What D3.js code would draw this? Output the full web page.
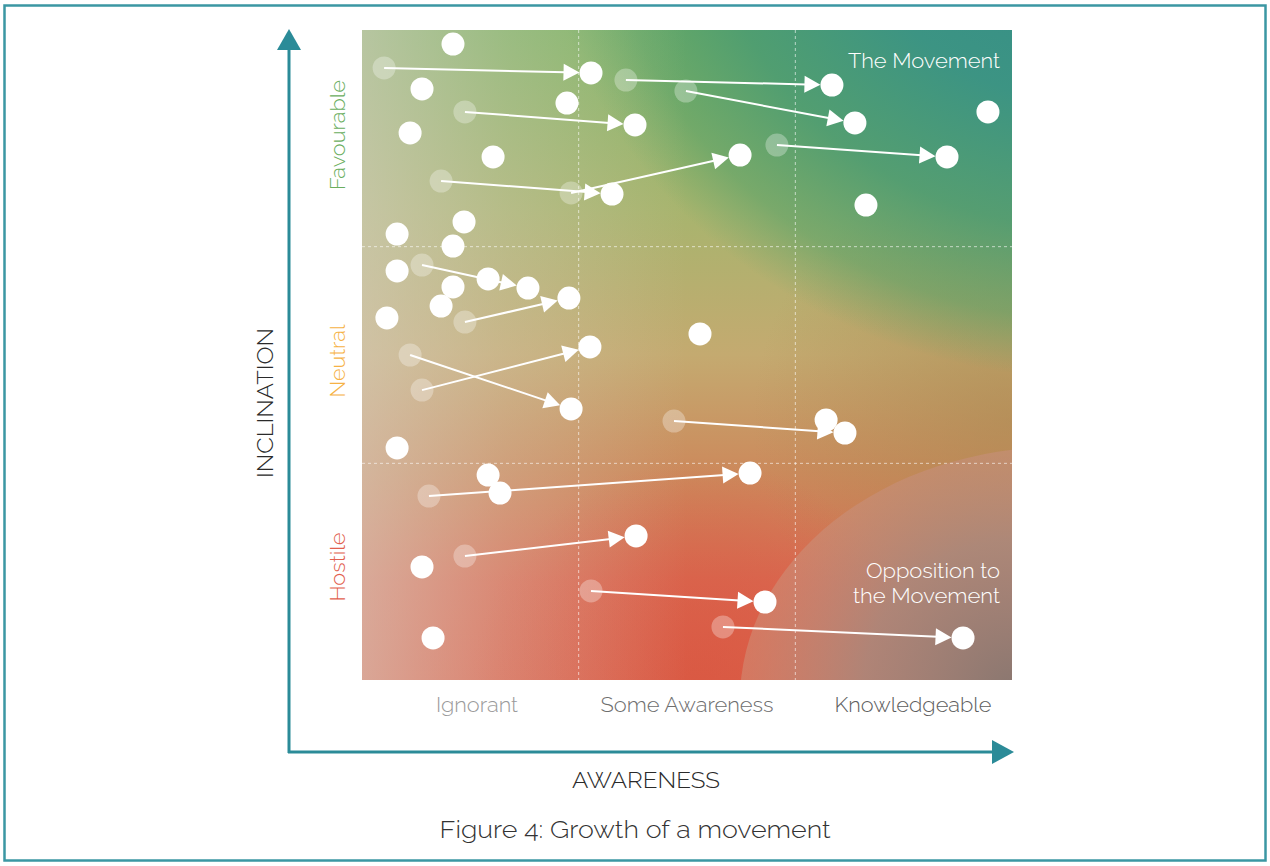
<!DOCTYPE html>
<html><head><meta charset="utf-8">
<script src="https://cdn.jsdelivr.net/npm/d3@7"></script>
<style>
html,body{margin:0;padding:0;background:#fff;}
svg{display:block;}
text{font-family:Raleway,Lato,"Open Sans",sans-serif;font-weight:300;}
</style></head>
<body>
<svg id="chart" width="1270" height="866"></svg>
<script>
// ---------- DATA ----------
const awarenessLevels = ["Ignorant", "Some Awareness", "Knowledgeable"];
const inclinationLevels = ["Hostile", "Neutral", "Favourable"];
const awarenessColors = ["#9a9a9a", "#6e6e6e", "#5e5e5e"];
const inclinationColors = ["#e2604e", "#f6b245", "#6aae5e"];
// static individuals [awareness, inclination] on 0..3 scales
const staticX = [0.42,0.277,0.946,0.222,0.605,2.889,2.326,0.471,0.162,0.42,0.162,0.582,0.42,0.365,0.115,1.56,0.162,2.142,0.582,0.637,0.277,0.328];
const staticY = [2.935,2.728,2.663,2.525,2.414,2.622,2.192,2.114,2.058,2.003,1.888,1.851,1.814,1.726,1.671,1.597,1.071,1.2,0.946,0.863,0.522,0.194];
// moving individuals: from (fromX,fromY) to (toX,toY)
const fromX = [0.102,1.218,1.495,0.475,0.365,0.965,1.915,0.277,0.475,0.222,0.277,1.44,0.309,0.475,1.057,1.666];
const fromY = [2.825,2.769,2.718,2.622,2.303,2.248,2.469,1.915,1.652,1.5,1.338,1.195,0.849,0.572,0.411,0.245];
const toX   = [1.057,2.169,2.275,1.26,1.154,1.745,2.7,0.766,0.955,0.965,1.052,2.229,1.791,1.265,1.86,2.774];
const toY   = [2.802,2.746,2.571,2.562,2.243,2.423,2.414,1.809,1.763,1.251,1.537,1.14,0.955,0.665,0.36,0.194];
const zoneLabels = [["The Movement"], ["Opposition to", "the Movement"]];
const axisTitles = {x: "AWARENESS", y: "INCLINATION"};
const caption = "Figure 4: Growth of a movement";

// ---------- LAYOUT ----------
const svg = d3.select("#chart");
const L = 362, R = 1012, T = 30, B = 680;
const x = d3.scaleLinear().domain([0,3]).range([L,R]);
const y = d3.scaleLinear().domain([0,3]).range([B,T]);
const rad = 11.5;

// frame
svg.append("rect").attr("x",4.5).attr("y",5.5).attr("width",1261).attr("height",855)
  .attr("fill","none").attr("stroke","#3b97a3").attr("stroke-width",2.5);

const defs = svg.append("defs");
function lin(id, x1,y1,x2,y2, stops){
  const g = defs.append("linearGradient").attr("id",id)
    .attr("x1",x1).attr("y1",y1).attr("x2",x2).attr("y2",y2);
  stops.forEach(s=>g.append("stop").attr("offset",s[0]).attr("stop-color",s[1]).attr("stop-opacity",s[2]===undefined?1:s[2]));
}
function radial(id, cx,cy,r, stops){
  const g = defs.append("radialGradient").attr("id",id).attr("gradientUnits","userSpaceOnUse")
    .attr("cx",cx).attr("cy",cy).attr("r",r);
  stops.forEach(s=>g.append("stop").attr("offset",s[0]).attr("stop-color",s[1]).attr("stop-opacity",s[2]===undefined?1:s[2]));
}
function radialBox(id, stops){
  const g = defs.append("radialGradient").attr("id",id);
  stops.forEach(s=>g.append("stop").attr("offset",s[0]).attr("stop-color",s[1]).attr("stop-opacity",s[2]===undefined?1:s[2]));
}
lin("gBase",0,0,0,1,[[0,"#80b466"],[0.28,"#a8b46e"],[0.5,"#c4aa70"],[0.68,"#cc8a5c"],[0.85,"#da6a52"],[1,"#dc624c"]]);
lin("gLeft",0,0,1,0,[[0,"#d8d0c4",0.62],[0.22,"#d8d0c4",0.3],[0.5,"#d8d0c4",0]]);
radialBox("gTeal", [[0,"#318a8c",1],[0.45,"#3a9384",0.97],[0.7,"#479a72",0.85],[0.88,"#54a068",0.55],[1,"#5aa266",0]]);
radial("gOlive", 1012, 420, 260, [[0,"#a88850",0.55],[1,"#a88850",0]]);
radial("gRed", 700, 690, 230, [[0,"#d9553f",0.7],[1,"#d9553f",0]]);
radial("gOpp", 1012, 690, 330, [[0,"#8a7770",1],[0.45,"#a88a7e",0.85],[0.8,"#cf9078",0.55],[1,"#dd9a80",0.45]]);

defs.append("clipPath").attr("id","plotClip").append("rect")
  .attr("x",L).attr("y",T).attr("width",R-L).attr("height",B-T);

const bg = svg.append("g").attr("clip-path","url(#plotClip)");
bg.append("rect").attr("x",L).attr("y",T).attr("width",R-L).attr("height",B-T).attr("fill","url(#gBase)");
bg.append("rect").attr("x",L).attr("y",T).attr("width",R-L).attr("height",B-T).attr("fill","url(#gOlive)");
bg.append("ellipse").attr("cx",1100).attr("cy",-120).attr("rx",560).attr("ry",500).attr("fill","url(#gTeal)");
bg.append("rect").attr("x",L).attr("y",T).attr("width",R-L).attr("height",B-T).attr("fill","url(#gRed)");
bg.append("rect").attr("x",L).attr("y",T).attr("width",R-L).attr("height",B-T).attr("fill","url(#gLeft)");
bg.append("ellipse").attr("cx",1060).attr("cy",700).attr("rx",320).attr("ry",253).attr("fill","url(#gOpp)");

// grid
const grid = svg.append("g").attr("stroke","#ffffff").attr("stroke-opacity",0.6)
  .attr("stroke-width",1).attr("stroke-dasharray","3,3");
[1,2].forEach(v=>{
  grid.append("line").attr("x1",x(v)).attr("x2",x(v)).attr("y1",T).attr("y2",B);
  grid.append("line").attr("x1",L).attr("x2",R).attr("y1",y(v)).attr("y2",y(v));
});

// axes arrows
const axisCol = "#2b8b98";
const ax = svg.append("g");
ax.append("line").attr("x1",289).attr("x2",289).attr("y1",48).attr("y2",753)
  .attr("stroke",axisCol).attr("stroke-width",3);
ax.append("line").attr("x1",288).attr("x2",995).attr("y1",752).attr("y2",752)
  .attr("stroke",axisCol).attr("stroke-width",3);
ax.append("path").attr("d","M289,29 L301,50 L277,50 Z").attr("fill",axisCol);
ax.append("path").attr("d","M1014,752 L992,740 L992,764 Z").attr("fill",axisCol);

// category labels
svg.selectAll(".xlab").data(awarenessLevels).enter().append("text")
  .attr("x",(d,i)=>[477,687,913][i]).attr("y",712).attr("text-anchor","middle")
  .attr("font-size",20).attr("fill",(d,i)=>awarenessColors[i])
  .attr("textLength",(d,i)=>[82,173,157][i]).attr("lengthAdjust","spacingAndGlyphs")
  .text(d=>d);
svg.selectAll(".ylab").data(inclinationLevels).enter().append("text")
  .attr("transform",(d,i)=>`translate(345,${[567,361,135][i]}) rotate(-90)`)
  .attr("text-anchor","middle").attr("font-size",20).attr("fill",(d,i)=>inclinationColors[i])
  .attr("textLength",(d,i)=>[69,73,110][i]).attr("lengthAdjust","spacingAndGlyphs")
  .text(d=>d);

// axis titles
svg.append("text").attr("x",646).attr("y",788).attr("text-anchor","middle")
  .attr("font-size",22).attr("fill","#2a2a2a").attr("font-weight",400)
  .attr("textLength",148).attr("lengthAdjust","spacingAndGlyphs").text(axisTitles.x);
svg.append("text").attr("transform","translate(273,403) rotate(-90)").attr("text-anchor","middle")
  .attr("font-size",22).attr("fill","#2a2a2a").attr("font-weight",400)
  .attr("textLength",150).attr("lengthAdjust","spacingAndGlyphs").text(axisTitles.y);
svg.append("text").attr("x",635).attr("y",838).attr("text-anchor","middle")
  .attr("font-size",25).attr("fill","#333").attr("font-weight",400)
  .attr("textLength",391).attr("lengthAdjust","spacingAndGlyphs").text(caption);

// zone labels
svg.append("text").attr("x",1000).attr("y",68).attr("text-anchor","end")
  .attr("font-size",21).attr("fill","#fff").attr("textLength",152).attr("lengthAdjust","spacingAndGlyphs")
  .text(zoneLabels[0][0]);
svg.selectAll(".opp").data(zoneLabels[1]).enter().append("text")
  .attr("x",1000).attr("y",(d,i)=>578+i*25).attr("text-anchor","end")
  .attr("font-size",21).attr("fill","#fff")
  .attr("textLength",(d,i)=>[134,147][i]).attr("lengthAdjust","spacingAndGlyphs")
  .text(d=>d);

// moves
const moves = fromX.map((d,i)=>({fx:fromX[i],fy:fromY[i],tx:toX[i],ty:toY[i]}));
const statics = staticX.map((d,i)=>({x:staticX[i],y:staticY[i]}));
const marks = svg.append("g");
marks.selectAll(".fade").data(moves).enter().append("circle")
  .attr("cx",d=>x(d.fx)).attr("cy",d=>y(d.fy)).attr("r",rad)
  .attr("fill","#fff").attr("fill-opacity",0.3);
const headLen = 16, headW = 8.5;
moves.forEach(d=>{
  const x1=x(d.fx), y1=y(d.fy), x2=x(d.tx), y2=y(d.ty);
  const dx=x2-x1, dy=y2-y1, len=Math.hypot(dx,dy), ux=dx/len, uy=dy/len;
  const tipX=x2-ux*rad, tipY=y2-uy*rad;
  const bX=tipX-ux*headLen, bY=tipY-uy*headLen;
  marks.append("line").attr("x1",x1).attr("y1",y1).attr("x2",bX+ux*2).attr("y2",bY+uy*2)
    .attr("stroke","#fff").attr("stroke-width",2);
  marks.append("path").attr("d",`M${tipX},${tipY} L${bX-uy*headW},${bY+ux*headW} L${bX+uy*headW},${bY-ux*headW} Z`)
    .attr("fill","#fff");
});
marks.selectAll(".to").data(moves).enter().append("circle")
  .attr("cx",d=>x(d.tx)).attr("cy",d=>y(d.ty)).attr("r",rad).attr("fill","#fff");
marks.selectAll(".st").data(statics).enter().append("circle")
  .attr("cx",d=>x(d.x)).attr("cy",d=>y(d.y)).attr("r",rad).attr("fill","#fff");
</script>
</body></html>
